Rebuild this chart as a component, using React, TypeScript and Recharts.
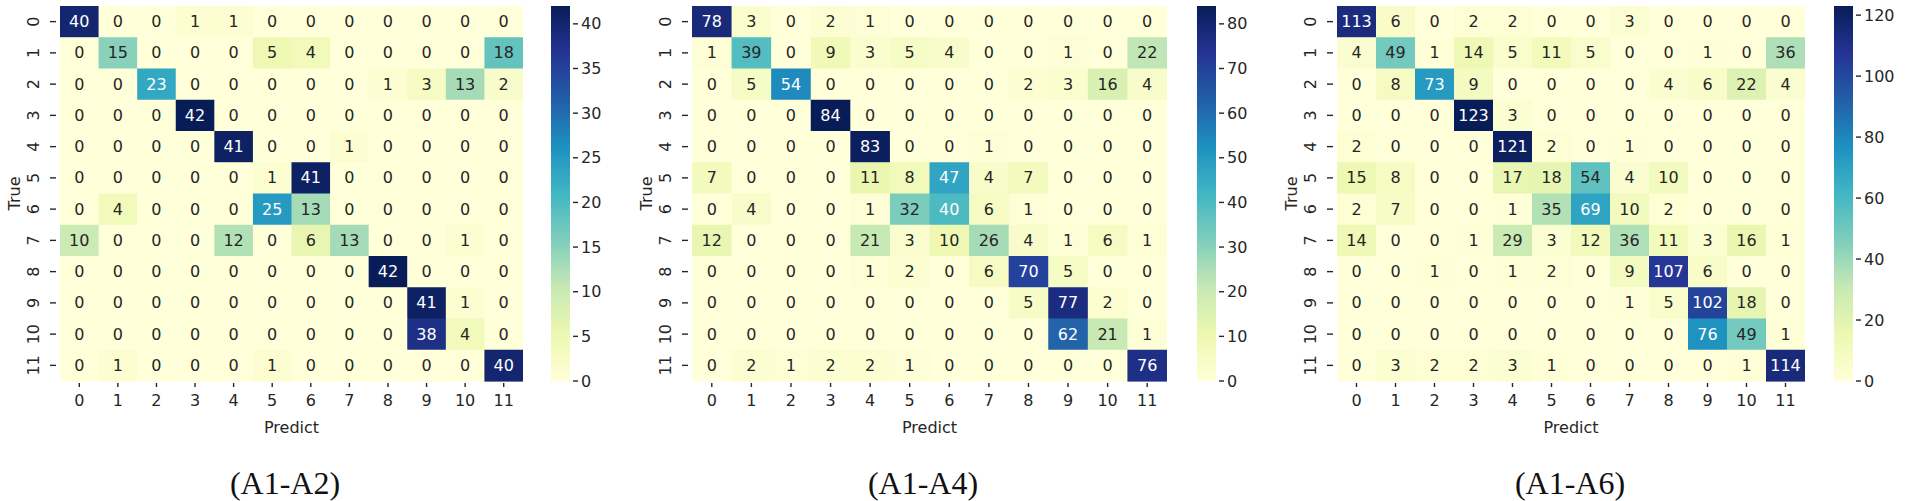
import React from "react";
import { ScatterChart, Scatter, XAxis, YAxis, BarChart, Bar, Label } from "recharts";

// class labels on both axes
const classLabels = ["0", "1", "2", "3", "4", "5", "6", "7", "8", "9", "10", "11"];

// confusion matrices, rows = true class, columns = predicted class
const rowsA1A2 = [
  [40, 0, 0, 1, 1, 0, 0, 0, 0, 0, 0, 0],
  [0, 15, 0, 0, 0, 5, 4, 0, 0, 0, 0, 18],
  [0, 0, 23, 0, 0, 0, 0, 0, 1, 3, 13, 2],
  [0, 0, 0, 42, 0, 0, 0, 0, 0, 0, 0, 0],
  [0, 0, 0, 0, 41, 0, 0, 1, 0, 0, 0, 0],
  [0, 0, 0, 0, 0, 1, 41, 0, 0, 0, 0, 0],
  [0, 4, 0, 0, 0, 25, 13, 0, 0, 0, 0, 0],
  [10, 0, 0, 0, 12, 0, 6, 13, 0, 0, 1, 0],
  [0, 0, 0, 0, 0, 0, 0, 0, 42, 0, 0, 0],
  [0, 0, 0, 0, 0, 0, 0, 0, 0, 41, 1, 0],
  [0, 0, 0, 0, 0, 0, 0, 0, 0, 38, 4, 0],
  [0, 1, 0, 0, 0, 1, 0, 0, 0, 0, 0, 40],
];

const rowsA1A4 = [
  [78, 3, 0, 2, 1, 0, 0, 0, 0, 0, 0, 0],
  [1, 39, 0, 9, 3, 5, 4, 0, 0, 1, 0, 22],
  [0, 5, 54, 0, 0, 0, 0, 0, 2, 3, 16, 4],
  [0, 0, 0, 84, 0, 0, 0, 0, 0, 0, 0, 0],
  [0, 0, 0, 0, 83, 0, 0, 1, 0, 0, 0, 0],
  [7, 0, 0, 0, 11, 8, 47, 4, 7, 0, 0, 0],
  [0, 4, 0, 0, 1, 32, 40, 6, 1, 0, 0, 0],
  [12, 0, 0, 0, 21, 3, 10, 26, 4, 1, 6, 1],
  [0, 0, 0, 0, 1, 2, 0, 6, 70, 5, 0, 0],
  [0, 0, 0, 0, 0, 0, 0, 0, 5, 77, 2, 0],
  [0, 0, 0, 0, 0, 0, 0, 0, 0, 62, 21, 1],
  [0, 2, 1, 2, 2, 1, 0, 0, 0, 0, 0, 76],
];

const rowsA1A6 = [
  [113, 6, 0, 2, 2, 0, 0, 3, 0, 0, 0, 0],
  [4, 49, 1, 14, 5, 11, 5, 0, 0, 1, 0, 36],
  [0, 8, 73, 9, 0, 0, 0, 0, 4, 6, 22, 4],
  [0, 0, 0, 123, 3, 0, 0, 0, 0, 0, 0, 0],
  [2, 0, 0, 0, 121, 2, 0, 1, 0, 0, 0, 0],
  [15, 8, 0, 0, 17, 18, 54, 4, 10, 0, 0, 0],
  [2, 7, 0, 0, 1, 35, 69, 10, 2, 0, 0, 0],
  [14, 0, 0, 1, 29, 3, 12, 36, 11, 3, 16, 1],
  [0, 0, 1, 0, 1, 2, 0, 9, 107, 6, 0, 0],
  [0, 0, 0, 0, 0, 0, 0, 1, 5, 102, 18, 0],
  [0, 0, 0, 0, 0, 0, 0, 0, 0, 76, 49, 1],
  [0, 3, 2, 2, 3, 1, 0, 0, 0, 0, 1, 114],
];

// colorbar ticks
const cbTicksA1A2 = [0, 5, 10, 15, 20, 25, 30, 35, 40];
const cbTicksA1A4 = [0, 10, 20, 30, 40, 50, 60, 70, 80];
const cbTicksA1A6 = [0, 20, 40, 60, 80, 100, 120];

const titles = ["(A1-A2)", "(A1-A4)", "(A1-A6)"];

// seaborn YlGnBu
const YLGNBU = ["#ffffd9", "#edf8b1", "#c7e9b4", "#7fcdbb", "#41b6c4", "#1d91c0", "#225ea8", "#253494", "#081d58"];

const FONT = "'DejaVu Sans', sans-serif";
const INK = "#262626";
const PLOT_TOP = 6;
const PLOT_H = 375;
const XAXIS_H = 60;
const YAXIS_W = 60;
const CHART_H = PLOT_TOP + PLOT_H + XAXIS_H;
const idx = classLabels.map((_, i) => i);

const hexRgb = (h: string) => {
  const n = parseInt(h.slice(1), 16);
  return [(n >> 16) & 255, (n >> 8) & 255, n & 255];
};

function cmap(t: number) {
  const s = Math.max(0, Math.min(1, t)) * (YLGNBU.length - 1);
  const i = Math.min(Math.floor(s), YLGNBU.length - 2);
  const f = s - i;
  const a = hexRgb(YLGNBU[i]);
  const b = hexRgb(YLGNBU[i + 1]);
  return a.map((c, k) => Math.round(c + (b[k] - c) * f));
}

// same rule seaborn uses to pick dark / white annotation text
function textFor(rgb: number[]) {
  const lin = (c: number) => {
    c /= 255;
    return c <= 0.03928 ? c / 12.92 : Math.pow((c + 0.055) / 1.055, 2.4);
  };
  const lum = 0.2126 * lin(rgb[0]) + 0.7152 * lin(rgb[1]) + 0.0722 * lin(rgb[2]);
  return lum > 0.408 ? INK : "#ffffff";
}

const XTick = (props: any) => {
  const { x, y, payload } = props;
  return (
    <g>
      <line x1={x} x2={x} y1={y + 2} y2={y + 6} stroke={INK} strokeWidth={1.4} />
      <text x={x} y={y + 19} textAnchor="middle" dominantBaseline="central" fontSize={16} fontFamily={FONT} fill={INK}>
        {classLabels[payload.value]}
      </text>
    </g>
  );
};

const YTick = (props: any) => {
  const { x, y, payload } = props;
  return (
    <g>
      <line x1={x - 10} x2={x - 4} y1={y} y2={y} stroke={INK} strokeWidth={1.4} />
      <text x={x - 27} y={y} transform={`rotate(-90 ${x - 27} ${y})`} textAnchor="middle" dominantBaseline="central" fontSize={16} fontFamily={FONT} fill={INK}>
        {classLabels[payload.value]}
      </text>
    </g>
  );
};

const CbTick = (props: any) => {
  const { x, y, payload } = props;
  return (
    <g>
      <line x1={x + 3} x2={x + 8} y1={y} y2={y} stroke={INK} strokeWidth={1.4} />
      <text x={x + 11} y={y} textAnchor="start" dominantBaseline="central" fontSize={16} fontFamily={FONT} fill={INK}>
        {payload.value}
      </text>
    </g>
  );
};

function Heatmap({ rows, plotW }: { rows: number[][]; plotW: number }) {
  const max = Math.max(...rows.flat());
  const cells = rows.flatMap((row, r) => row.map((v, c) => ({ x: c, y: r, v })));
  const cw = plotW / classLabels.length;
  const ch = PLOT_H / classLabels.length;

  const renderCell = (p: any) => {
    const { cx, cy, payload } = p;
    const rgb = cmap(payload.v / max);
    return (
      <g>
        <rect x={cx - cw / 2} y={cy - ch / 2} width={cw + 0.6} height={ch + 0.6} fill={`rgb(${rgb.join(",")})`} />
        <text x={cx} y={cy} textAnchor="middle" dominantBaseline="central" fontSize={16} fontFamily={FONT} fill={textFor(rgb)}>
          {payload.v}
        </text>
      </g>
    );
  };

  return (
    <ScatterChart width={YAXIS_W + plotW} height={CHART_H} margin={{ top: PLOT_TOP, right: 0, bottom: 0, left: 0 }}>
      <XAxis
        type="number"
        dataKey="x"
        domain={[-0.5, classLabels.length - 0.5]}
        ticks={idx}
        interval={0}
        height={XAXIS_H}
        tickSize={0}
        tickMargin={0}
        axisLine={false}
        tickLine={false}
        tick={<XTick />}
      >
        <Label
          content={(lp: any) => {
            const vb = lp.viewBox;
            return (
              <text x={vb.x + vb.width / 2} y={vb.y + 46} textAnchor="middle" dominantBaseline="central" fontSize={16} fontFamily={FONT} fill={INK}>
                Predict
              </text>
            );
          }}
        />
      </XAxis>
      <YAxis
        type="number"
        dataKey="y"
        domain={[-0.5, classLabels.length - 0.5]}
        reversed
        ticks={idx}
        interval={0}
        width={YAXIS_W}
        tickSize={0}
        tickMargin={0}
        axisLine={false}
        tickLine={false}
        tick={<YTick />}
      >
        <Label
          content={(lp: any) => {
            const vb = lp.viewBox;
            const tx = vb.x + vb.width - 46;
            const ty = vb.y + vb.height / 2;
            return (
              <text x={tx} y={ty} transform={`rotate(-90 ${tx} ${ty})`} textAnchor="middle" dominantBaseline="central" fontSize={16} fontFamily={FONT} fill={INK}>
                True
              </text>
            );
          }}
        />
      </YAxis>
      <Scatter data={cells} shape={renderCell} isAnimationActive={false} />
    </ScatterChart>
  );
}

function Colorbar({ rows, ticks, id }: { rows: number[][]; ticks: number[]; id: string }) {
  const max = Math.max(...rows.flat());
  return (
    <BarChart width={19 + 60} height={CHART_H} data={[{ name: "cb", v: max }]} margin={{ top: PLOT_TOP, right: 0, bottom: XAXIS_H, left: 0 }} barCategoryGap={0}>
      <defs>
        <linearGradient id={id} x1="0" y1="1" x2="0" y2="0">
          {YLGNBU.map((c, i) => (
            <stop key={i} offset={i / (YLGNBU.length - 1)} stopColor={c} />
          ))}
        </linearGradient>
      </defs>
      <XAxis dataKey="name" hide />
      <YAxis
        orientation="right"
        type="number"
        domain={[0, max]}
        ticks={ticks}
        interval={0}
        width={60}
        tickSize={0}
        tickMargin={0}
        axisLine={false}
        tickLine={false}
        tick={<CbTick />}
      />
      <Bar dataKey="v" fill={`url(#${id})`} isAnimationActive={false} />
    </BarChart>
  );
}

const panels = [
  { rows: rowsA1A2, ticks: cbTicksA1A2, plotLeft: 60, plotW: 463, cbLeft: 551, titleX: 285 },
  { rows: rowsA1A4, ticks: cbTicksA1A4, plotLeft: 692, plotW: 475, cbLeft: 1197, titleX: 923 },
  { rows: rowsA1A6, ticks: cbTicksA1A6, plotLeft: 1337, plotW: 468, cbLeft: 1834, titleX: 1570 },
];

export default function App() {
  return (
    <div style={{ position: "absolute", left: 0, top: 0, width: 1905, height: 501, background: "#fff", overflow: "hidden" }}>
      {panels.map((p, i) => (
        <React.Fragment key={i}>
          <div style={{ position: "absolute", left: p.plotLeft - YAXIS_W, top: 0 }}>
            <Heatmap rows={p.rows} plotW={p.plotW} />
          </div>
          <div style={{ position: "absolute", left: p.cbLeft, top: 0 }}>
            <Colorbar rows={p.rows} ticks={p.ticks} id={`cb${i}`} />
          </div>
          <div
            style={{
              position: "absolute",
              left: p.titleX - 150,
              top: 465,
              width: 300,
              textAlign: "center",
              fontFamily: "'Liberation Serif', 'Times New Roman', serif",
              fontSize: 32,
              lineHeight: "36px",
              color: "#111",
            }}
          >
            {titles[i]}
          </div>
        </React.Fragment>
      ))}
    </div>
  );
}
